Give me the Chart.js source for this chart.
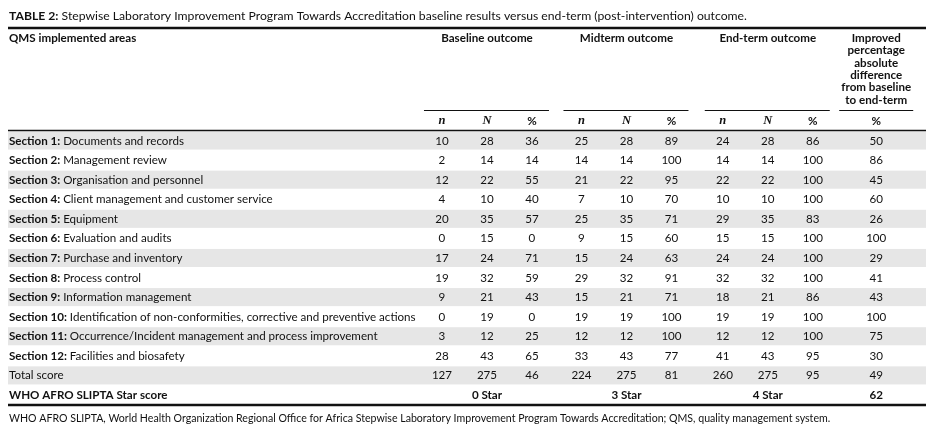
<!DOCTYPE html>
<html>
<head>
<meta charset="utf-8">
<script src="https://cdn.jsdelivr.net/npm/chart.js@4.4.1/dist/chart.umd.min.js"></script>
<style>
html, body { margin: 0; padding: 0; background: #fff; }
#wrap { width: 936px; height: 436px; }
</style>
</head>
<body>
<div id="wrap"><canvas id="table2"></canvas></div>
<script>
// Row labels (bold part + rest)
const sectionTitles = ['Section 1:', 'Section 2:', 'Section 3:', 'Section 4:', 'Section 5:', 'Section 6:',
    'Section 7:', 'Section 8:', 'Section 9:', 'Section 10:', 'Section 11:', 'Section 12:'];
const sectionNames = ['Documents and records', 'Management review', 'Organisation and personnel',
    'Client management and customer service', 'Equipment', 'Evaluation and audits',
    'Purchase and inventory', 'Process control', 'Information management',
    'Identification of non-conformities, corrective and preventive actions',
    'Occurrence/Incident management and process improvement', 'Facilities and biosafety'];
const totalLabel = 'Total score';
const starLabel = 'WHO AFRO SLIPTA Star score';

// Values: 12 sections + total score
const baselineN     = [10, 2, 12, 4, 20, 0, 17, 19, 9, 0, 3, 28, 127];
const baselineTotal = [28, 14, 22, 10, 35, 15, 24, 32, 21, 19, 12, 43, 275];
const baselinePct   = [36, 14, 55, 40, 57, 0, 71, 59, 43, 0, 25, 65, 46];
const midtermN      = [25, 14, 21, 7, 25, 9, 15, 29, 15, 19, 12, 33, 224];
const midtermTotal  = [28, 14, 22, 10, 35, 15, 24, 32, 21, 19, 12, 43, 275];
const midtermPct    = [89, 100, 95, 70, 71, 60, 63, 91, 71, 100, 100, 77, 81];
const endtermN      = [24, 14, 22, 10, 29, 15, 24, 32, 18, 19, 12, 41, 260];
const endtermTotal  = [28, 14, 22, 10, 35, 15, 24, 32, 21, 19, 12, 43, 275];
const endtermPct    = [86, 100, 100, 100, 83, 100, 100, 100, 86, 100, 100, 95, 95];
const improvedPct   = [50, 86, 45, 60, 26, 100, 29, 41, 43, 100, 75, 30, 49];
const starScores    = ['0 Star', '3 Star', '4 Star', '62'];

const groupTitles = ['Baseline outcome', 'Midterm outcome', 'End-term outcome'];
const improvedTitle = ['Improved', 'percentage', 'absolute', 'difference', 'from baseline', 'to end-term'];
const subHeads = ['n', 'N', '%'];
const titleBold = 'TABLE 2:';
const titleText = ' Stepwise Laboratory Improvement Program Towards Accreditation baseline results versus end-term (post-intervention) outcome.';
const footnote = 'WHO AFRO SLIPTA, World Health Organization Regional Office for Africa Stepwise Laboratory Improvement Program Towards Accreditation; QMS, quality management system.';

const rowLabels = sectionTitles.map((t, i) => t + ' ' + sectionNames[i]).concat([totalLabel, starLabel]);

// layout: column centres in column units
const GROUP_X = [0, 3.1, 6.24];
const IMPROVED_X = 9.65;

const INK = '#111111';
const SHADE = '#e6e6e6';
const SANS = 'Lato, "Open Sans", sans-serif';
const BODY = '11.6px ' + SANS;

const cellSet = (values, x, bold) => ({
    data: values.map((v, i) => ({ x: x, y: rowLabels[i], text: String(v) })),
    bold: bold
});

const datasets = [];
[[baselineN, baselineTotal, baselinePct], [midtermN, midtermTotal, midtermPct], [endtermN, endtermTotal, endtermPct]]
    .forEach((cols, g) => cols.forEach((vals, k) => datasets.push(cellSet(vals, GROUP_X[g] + k, false))));
datasets.push(cellSet(improvedPct, IMPROVED_X, false));
datasets.push({
    data: starScores.map((s, i) => ({ x: i < 3 ? GROUP_X[i] + 1 : IMPROVED_X, y: starLabel, text: s })),
    bold: true
});

const tablePlugin = {
    id: 'tablePlugin',
    beforeDatasetsDraw(chart) {
        const { ctx, chartArea, scales: { y } } = chart;
        const pitch = (chartArea.bottom - chartArea.top) / rowLabels.length;
        ctx.save();
        ctx.fillStyle = SHADE;
        rowLabels.forEach((lab, i) => {
            if (i % 2 === 0 && i < rowLabels.length - 1) {
                const cy = y.getPixelForValue(i);
                ctx.fillRect(chartArea.left, cy - pitch / 2 + 0.5, chartArea.right - chartArea.left, pitch - 1.5);
            }
        });
        ctx.restore();
    },
    afterDatasetsDraw(chart) {
        const { ctx, chartArea, scales: { x, y } } = chart;
        const L = chartArea.left, R = chartArea.right;
        ctx.save();
        ctx.fillStyle = INK;
        ctx.strokeStyle = INK;
        ctx.textBaseline = 'middle';

        // cell values
        ctx.textAlign = 'center';
        chart.data.datasets.forEach((ds, di) => {
            ctx.font = (ds.bold ? 'bold ' : '') + BODY;
            chart.getDatasetMeta(di).data.forEach((pt, i) => {
                ctx.fillText(ds.data[i].text, pt.x, pt.y);
            });
        });

        // row labels
        ctx.textAlign = 'left';
        rowLabels.forEach((lab, i) => {
            const cy = y.getPixelForValue(i);
            if (i < sectionTitles.length) {
                ctx.font = 'bold ' + BODY;
                ctx.fillText(sectionTitles[i], L + 1, cy);
                const w = ctx.measureText(sectionTitles[i] + ' ').width;
                ctx.font = BODY;
                ctx.fillText(sectionNames[i], L + 1 + w, cy);
            } else {
                ctx.font = (lab === starLabel ? 'bold ' : '') + BODY;
                ctx.fillText(lab, L + 1, cy);
            }
        });

        // title
        ctx.font = 'bold 12.2px ' + SANS;
        ctx.fillText(titleBold, L + 1, 16);
        const tw = ctx.measureText(titleBold).width;
        ctx.font = '12.2px ' + SANS;
        ctx.fillText(titleText, L + 1 + tw, 16);

        // rules
        ctx.lineWidth = 2.5;
        ctx.beginPath(); ctx.moveTo(L, 28); ctx.lineTo(R, 28); ctx.stroke();
        ctx.beginPath(); ctx.moveTo(L, chartArea.bottom); ctx.lineTo(R, chartArea.bottom); ctx.stroke();
        ctx.lineWidth = 1.3;
        ctx.beginPath(); ctx.moveTo(L, 130.5); ctx.lineTo(R, 130.5); ctx.stroke();

        // header
        ctx.font = 'bold ' + BODY;
        ctx.fillText('QMS implemented areas', L + 1, 38);
        ctx.textAlign = 'center';
        ctx.lineWidth = 1;
        GROUP_X.forEach((gx, g) => {
            const x0 = x.getPixelForValue(gx), x2 = x.getPixelForValue(gx + 2);
            ctx.font = 'bold ' + BODY;
            ctx.fillText(groupTitles[g], x.getPixelForValue(gx + 1), 38);
            ctx.beginPath(); ctx.moveTo(x0 - 18, 110.5); ctx.lineTo(x2 + 17, 110.5); ctx.stroke();
            subHeads.forEach((s, k) => {
                ctx.font = k < 2 ? 'bold italic 12.5px "Liberation Serif", serif' : 'bold ' + BODY;
                ctx.fillText(s, x.getPixelForValue(gx + k), 121);
            });
        });
        const xi = x.getPixelForValue(IMPROVED_X);
        ctx.font = 'bold ' + BODY;
        improvedTitle.forEach((s, k) => ctx.fillText(s, xi, 38 + k * 12.4));
        ctx.beginPath(); ctx.moveTo(xi - 37, 110.5); ctx.lineTo(xi + 37, 110.5); ctx.stroke();
        ctx.fillText('%', xi, 121);

        // footnote
        ctx.textAlign = 'left';
        ctx.font = '10.6px ' + SANS;
        ctx.fillText(footnote, L + 1, 419);
        ctx.restore();
    }
};

new Chart(document.getElementById('table2'), {
    type: 'scatter',
    data: { datasets: datasets },
    options: {
        responsive: true,
        maintainAspectRatio: false,
        animation: false,
        events: [],
        layout: { padding: { left: 8, right: 10, top: 131, bottom: 31 } },
        elements: { point: { radius: 0, hoverRadius: 0 } },
        scales: {
            x: { type: 'linear', min: -9.644, max: 10.756, display: false },
            y: { type: 'category', labels: rowLabels, offset: true, display: false }
        },
        plugins: { legend: { display: false }, tooltip: { enabled: false } }
    },
    plugins: [tablePlugin]
});
</script>
</body>
</html>
